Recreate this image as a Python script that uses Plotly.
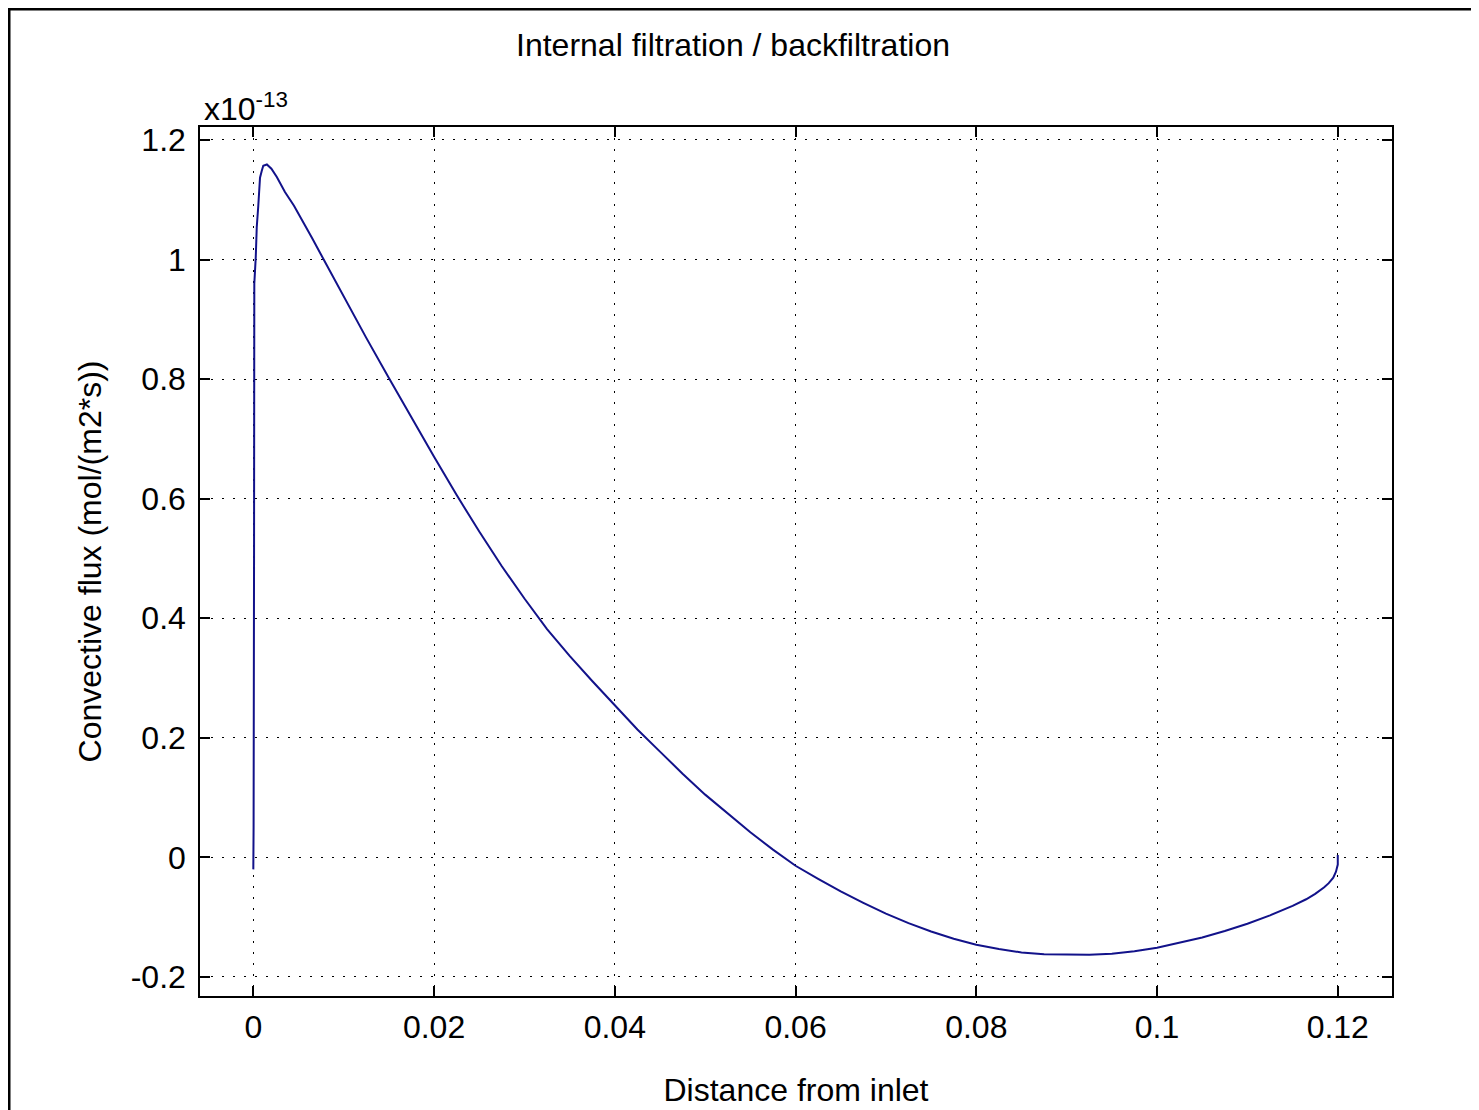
import plotly.graph_objects as go

# Data (y in units of 1e-13 mol/(m2*s))
distance = [0.0, 0.00003, 0.00008, 0.00011, 0.00027, 0.00038, 0.00055, 0.00074,
            0.00093, 0.0011, 0.0015, 0.002, 0.0026, 0.0035, 0.0045, 0.0055,
            0.0065, 0.0075, 0.0085, 0.01, 0.0125, 0.015, 0.0175, 0.02,
            0.0225, 0.025, 0.0275, 0.03, 0.0325, 0.035, 0.0375, 0.04,
            0.0425, 0.045, 0.0475, 0.05, 0.0525, 0.055, 0.0575, 0.06,
            0.0625, 0.065, 0.0675, 0.07, 0.0725, 0.075, 0.0775, 0.08,
            0.0825, 0.085, 0.0875, 0.09, 0.0925, 0.095, 0.0975, 0.1,
            0.1025, 0.105, 0.1075, 0.11, 0.1125, 0.115, 0.1165, 0.1175,
            0.1185, 0.119, 0.1195, 0.1198, 0.12, 0.12]
flux = [-0.02, 0.05, 0.50, 0.96, 1.004, 1.054, 1.090, 1.137,
        1.148, 1.157, 1.159, 1.152, 1.138, 1.113, 1.090, 1.064,
        1.036, 1.008, 0.980, 0.938, 0.869, 0.802, 0.735, 0.670,
        0.606, 0.545, 0.487, 0.433, 0.382, 0.337, 0.295, 0.254,
        0.214, 0.177, 0.140, 0.105, 0.073, 0.042, 0.013, -0.014,
        -0.036, -0.057, -0.076, -0.094, -0.110, -0.124, -0.136, -0.146,
        -0.153, -0.159, -0.162, -0.163, -0.163, -0.161, -0.157, -0.151,
        -0.143, -0.134, -0.123, -0.111, -0.097, -0.081, -0.070, -0.061,
        -0.050, -0.043, -0.034, -0.024, -0.012, 0.004]

x_tickvals = [0, 0.02, 0.04, 0.06, 0.08, 0.1, 0.12]
x_ticktext = ["0", "0.02", "0.04", "0.06", "0.08", "0.1", "0.12"]
y_tickvals = [-0.2, 0, 0.2, 0.4, 0.6, 0.8, 1.0, 1.2]
y_ticktext = ["-0.2", "0", "0.2", "0.4", "0.6", "0.8", "1", "1.2"]

title_text = "Internal filtration / backfiltration"
x_label = "Distance from inlet"
y_label = "Convective flux (mol/(m2*s))"
exponent_label = "x10<sup>-13</sup>"

FONT = "Liberation Sans, Arial, sans-serif"
FS = 32

# page body has an 8px margin, so the figure is 8px smaller than the window
W, H = 1471, 1102
ML, MR, MT, MB = 192, 87, 119, 114
PW, PH = W - ML - MR, H - MT - MB

fig = go.Figure()
fig.add_trace(go.Scatter(x=distance, y=flux, mode="lines",
                         line=dict(color="#12128a", width=2),
                         showlegend=False, hoverinfo="skip"))

axis_common = dict(
    showline=True, linecolor="black", linewidth=1.5, mirror="ticks",
    ticks="inside", ticklen=10, tickwidth=1.5, tickcolor="black",
    showgrid=True, gridcolor="black", gridwidth=1.4, griddash="1.5px,9.5px",
    zeroline=False, automargin=False,
    tickfont=dict(family=FONT, size=FS, color="black"),
)

fig.update_layout(
    width=W, height=H,
    margin=dict(l=ML, r=MR, t=MT, b=MB),
    paper_bgcolor="white", plot_bgcolor="white",
    font=dict(family=FONT, color="black"),
    title=dict(text=title_text, xref="container", x=725 / W, xanchor="center",
               yref="container", y=1 - 37 / H, yanchor="middle",
               font=dict(family=FONT, size=FS, color="black")),
    xaxis=dict(range=[-0.0059, 0.126], tickvals=x_tickvals, ticktext=x_ticktext,
               ticklabelstandoff=2,
               title=dict(text=x_label, standoff=34,
                          font=dict(family=FONT, size=FS, color="black")),
               **axis_common),
    yaxis=dict(range=[-0.2318, 1.2217], tickvals=y_tickvals, ticktext=y_ticktext,
               ticklabelstandoff=6,
               title=dict(text=y_label, standoff=20,
                          font=dict(family=FONT, size=FS, color="black")),
               **axis_common),
)

# exponent annotation (MATLAB style)
fig.add_annotation(text=exponent_label, xref="paper", yref="paper",
                   x=0.002, y=0.9975, xanchor="left", yanchor="bottom",
                   showarrow=False, font=dict(family=FONT, size=FS, color="black"))

# outer figure frame (left and top edges visible)
fig.add_shape(type="rect", xref="paper", yref="paper",
              x0=(1 - ML) / PW, x1=(W + 20 - ML) / PW,
              y0=-(MB + 20) / PH, y1=1 + (MT - 1) / PH,
              line=dict(color="black", width=3), layer="above")

fig.write_html("out.html")
